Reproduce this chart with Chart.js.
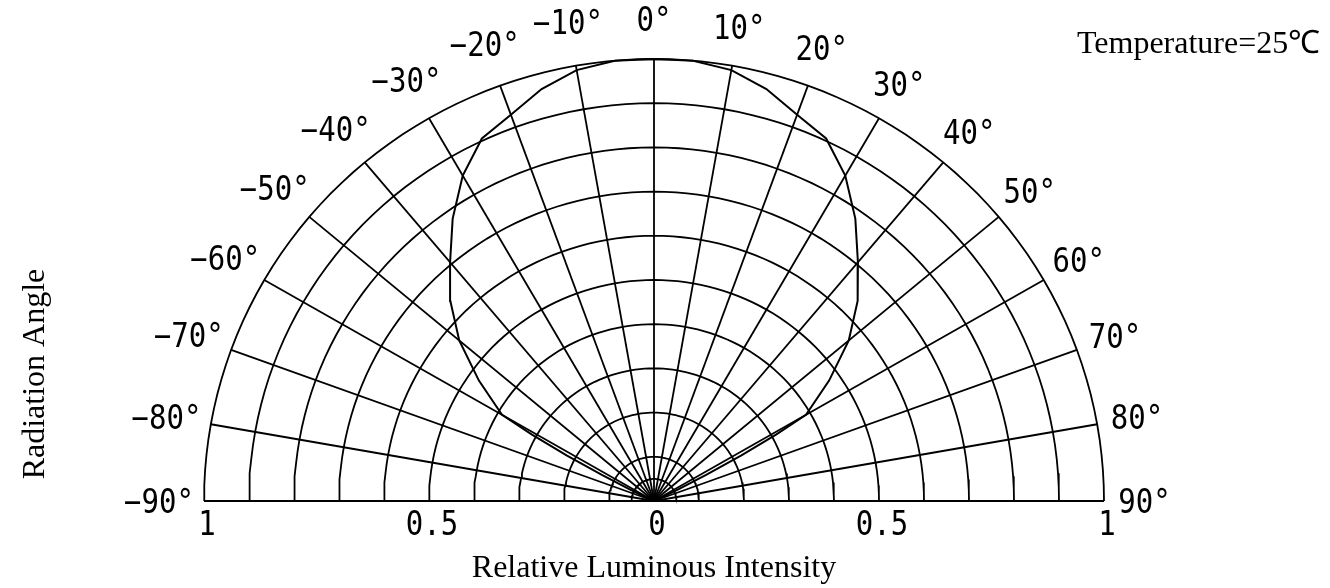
<!DOCTYPE html>
<html>
<head>
<meta charset="utf-8">
<script src="https://cdn.jsdelivr.net/npm/chart.js@4.4.0/dist/chart.umd.min.js"></script>
<style>
  html, body { margin: 0; padding: 0; background: #fff; }
  canvas { display: block; }
</style>
</head>
<body>
<canvas id="myChart" width="1330" height="588"></canvas>
<script>
// radiation pattern (degrees / relative intensity)
const angles = [-90, -80, -70, -65, -64, -63, -62, -61, -60, -55, -50, -45, -40, -35, -30, -25, -20, -15, -10, -5,
  0, 5, 10, 15, 20, 25, 30, 35, 40, 45, 50, 55, 60, 61, 62, 63, 64, 65, 70, 80, 90];
const intensity = [0, 0, 0, 0.02, 0.06, 0.13, 0.22, 0.31, 0.39, 0.475, 0.565, 0.64, 0.705, 0.78, 0.85, 0.905, 0.93, 0.965, 0.99, 1,
  1, 1, 0.99, 0.965, 0.93, 0.905, 0.85, 0.78, 0.705, 0.64, 0.565, 0.475, 0.39, 0.31, 0.22, 0.13, 0.06, 0.02, 0, 0, 0];

// polar grid
const ringRadii = [0.05, 0.1, 0.2, 0.3, 0.4, 0.5, 0.6, 0.7, 0.8, 0.9, 1.0];
const spokeAngles = [-80, -70, -60, -50, -40, -30, -20, -10, 0, 10, 20, 30, 40, 50, 60, 70, 80];

// tick labels
const angleTicks = [-90, -80, -70, -60, -50, -40, -30, -20, -10, 0, 10, 20, 30, 40, 50, 60, 70, 80, 90];
const angleLabels = ['−90°', '−80°', '−70°', '−60°', '−50°', '−40°', '−30°', '−20°', '−10°', '0°',
  '10°', '20°', '30°', '40°', '50°', '60°', '70°', '80°', '90°'];
const intensityTicks = [-1, -0.5, 0, 0.5, 1];
const intensityLabels = ['1', '0.5', '0', '0.5', '1'];

const xTitle = 'Relative Luminous Intensity';
const yTitle = 'Radiation Angle';
const note = 'Temperature=25℃';

function polar(deg, r) {
  const a = deg * Math.PI / 180;
  return { x: r * Math.sin(a), y: r * Math.cos(a) };
}

function line(points, width) {
  return {
    data: points,
    showLine: true,
    borderColor: '#000',
    borderWidth: width,
    pointRadius: 0,
    tension: 0,
    clip: false
  };
}

const datasets = [];

ringRadii.forEach(r => {
  const pts = [];
  for (let a = -90; a <= 90; a += 2) pts.push(polar(a, r));
  datasets.push(line(pts, 1.8));
});

spokeAngles.forEach(a => {
  datasets.push(line([polar(a, 0), polar(a, 1)], 1.8));
});

datasets.push(line([{ x: -1, y: 0 }, { x: 1, y: 0 }], 2));

datasets.push(line(angles.map((a, i) => polar(a, intensity[i])), 2));

const monoFont = '33px "DejaVu Sans Mono"';
const serifFont = '32px "Liberation Serif"';

function narrowText(ctx, text, x, y, sx) {
  ctx.save();
  ctx.translate(x, y);
  ctx.scale(sx, 1);
  ctx.fillText(text, 0, 0);
  ctx.restore();
}

const labelPlugin = {
  id: 'polarLabels',
  afterDraw(chart) {
    const ctx = chart.ctx;
    const xs = chart.scales.x;
    const ys = chart.scales.y;
    ctx.save();
    ctx.fillStyle = '#000';
    ctx.font = monoFont;
    ctx.textAlign = 'center';
    ctx.textBaseline = 'alphabetic';

    angleTicks.forEach((a, i) => {
      const p = polar(a, a < 0 ? 1.10 : 1.09);
      narrowText(ctx, angleLabels[i], xs.getPixelForValue(p.x), ys.getPixelForValue(p.y) + 12, 0.88);
    });

    intensityTicks.forEach((v, i) => {
      narrowText(ctx, intensityLabels[i], xs.getPixelForValue(v) + 3, ys.getPixelForValue(0) + 34, 0.88);
    });

    ctx.font = serifFont;
    ctx.fillText(xTitle, xs.getPixelForValue(0), 577);

    ctx.save();
    ctx.translate(44, 374);
    ctx.rotate(-Math.PI / 2);
    ctx.fillText(yTitle, 0, 0);
    ctx.restore();

    ctx.textAlign = 'left';
    ctx.fillText(note, 1077, 53);
    ctx.restore();
  }
};

const ctx = document.getElementById('myChart');

new Chart(ctx, {
  type: 'scatter',
  data: { datasets: datasets },
  options: {
    responsive: false,
    animation: false,
    devicePixelRatio: 1,
    layout: { padding: { left: 204, right: 226, top: 59, bottom: 87 } },
    scales: {
      x: { type: 'linear', min: -1, max: 1, display: false },
      y: { type: 'linear', min: 0, max: 1, display: false }
    },
    plugins: {
      legend: { display: false },
      tooltip: { enabled: false }
    }
  },
  plugins: [labelPlugin]
});
</script>
</body>
</html>
